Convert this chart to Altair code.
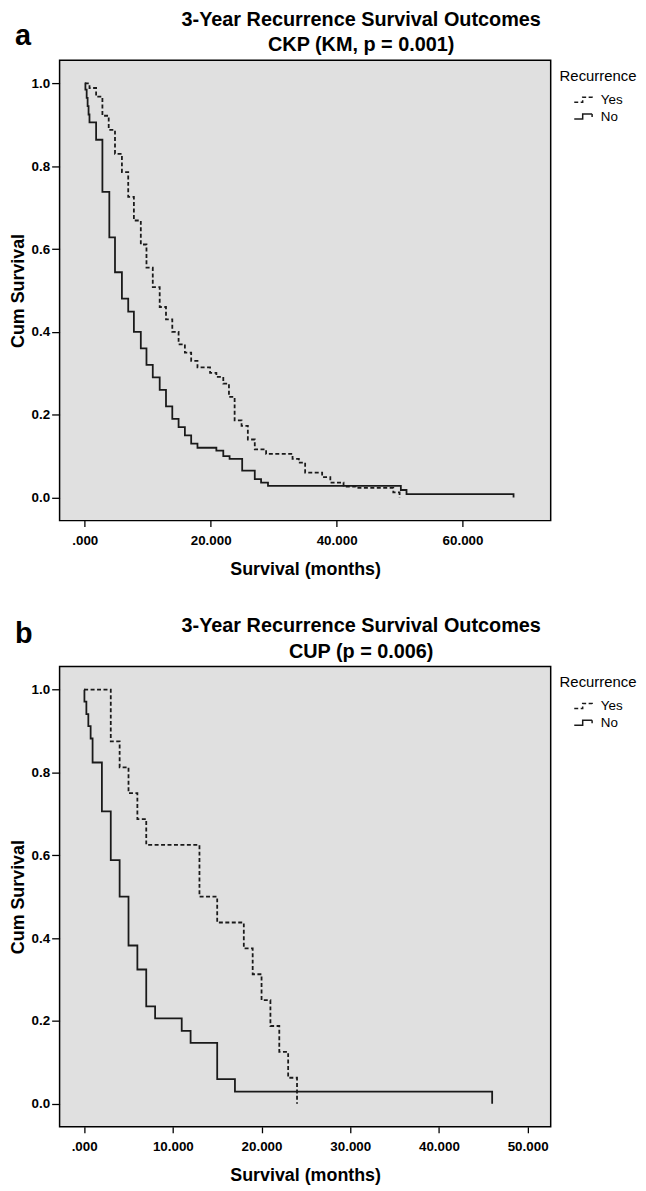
import altair as alt
import pandas as pd

# ---------------- data ----------------
# Panel a: CKP, Kaplan-Meier steps (time in months, cumulative survival)
ckp_yes_t = [0, 0.75, 1.8, 2.8, 3.8, 4.8, 5.9, 6.9, 7.8, 8.9, 9.8, 10.8, 11.9, 12.9,
             13.9, 14.9, 15.9, 16.9, 17.9, 19.9, 20.9, 22.0, 22.9, 23.8, 24.9, 25.9,
             27.0, 28.8, 33.0, 34.0, 35.0, 37.7, 39.0, 41.1, 43.0, 49.0, 50.0]
ckp_yes_s = [1.0, 0.989, 0.968, 0.922, 0.888, 0.830, 0.786, 0.726, 0.669, 0.611, 0.555,
             0.508, 0.460, 0.43, 0.40, 0.37, 0.35, 0.33, 0.314, 0.301, 0.291, 0.275,
             0.243, 0.186, 0.173, 0.140, 0.116, 0.105, 0.093, 0.084, 0.060, 0.049,
             0.036, 0.026, 0.023, 0.012, 0.0]
ckp_no_t = [0, 0.1, 0.3, 0.45, 0.6, 0.75, 1.8, 2.8, 3.9, 4.8, 5.9, 6.9, 7.8, 8.9, 9.8,
            10.8, 11.9, 12.9, 13.9, 14.9, 15.9, 16.9, 17.9, 20.9, 22.0, 23.0, 25.0,
            27.0, 28.0, 29.1, 50.2, 51.1, 68.1]
ckp_no_s = [1.0, 0.985, 0.965, 0.945, 0.925, 0.906, 0.864, 0.738, 0.628, 0.544, 0.480,
            0.449, 0.40, 0.36, 0.32, 0.29, 0.26, 0.22, 0.19, 0.17, 0.15, 0.13, 0.12,
            0.113, 0.100, 0.093, 0.065, 0.044, 0.036, 0.028, 0.018, 0.008, 0.0]

# Panel b: CUP
cup_yes_t = [0, 3, 4, 5, 6, 7, 13, 15, 18, 19, 20, 21, 22, 23, 24]
cup_yes_s = [1.0, 0.875, 0.8125, 0.75, 0.6875, 0.625, 0.5, 0.4375, 0.375, 0.3125,
             0.25, 0.1875, 0.125, 0.0625, 0.0]
cup_no_t = [0, 0.03, 0.25, 0.47, 0.73, 0.95, 2, 3, 4, 5, 6, 7, 8, 11, 12, 15, 17, 46]
cup_no_s = [1.0, 0.971, 0.941, 0.912, 0.882, 0.824, 0.706, 0.588, 0.5, 0.382, 0.324,
            0.235, 0.206, 0.176, 0.147, 0.059, 0.029, 0.0]

groups = ["Yes", "No"]
y_ticks = [0.0, 0.2, 0.4, 0.6, 0.8, 1.0]
x_ticks_a = [0, 20, 40, 60]
x_ticks_b = [0, 10, 20, 30, 40, 50]
title_a = ["3-Year Recurrence Survival Outcomes", "CKP (KM, p = 0.001)"]
title_b = ["3-Year Recurrence Survival Outcomes", "CUP (p = 0.006)"]

FONT = "Liberation Sans"
INK = "#1a1a1a"
# step-shaped legend glyph
STEP_PATH = "M-2,0.5H-0.3V-0.5H1.6V0.1"


def table(ty, sy, tn, sn):
    rows = [{"t": t, "s": s, "Recurrence": "Yes"} for t, s in zip(ty, sy)]
    rows += [{"t": t, "s": s, "Recurrence": "No"} for t, s in zip(tn, sn)]
    return pd.DataFrame(rows)


def text_layer(txt, x, y, size, align):
    return alt.Chart(pd.DataFrame({"lbl": [txt]})).mark_text(
        align=align, baseline="alphabetic", font=FONT, fontSize=size,
        fontWeight="bold", color="black"
    ).encode(text="lbl:N", x=alt.value(x), y=alt.value(y))


def panel(df, xdomain, xticks, title, letter, letter_dy):
    lines = alt.Chart(df).mark_line(
        interpolate="step-after", strokeWidth=1.8, color=INK
    ).encode(
        x=alt.X("t:Q",
                scale=alt.Scale(domain=xdomain, nice=False, zero=False),
                axis=alt.Axis(values=xticks, title="Survival (months)",
                              labelExpr="datum.value == 0 ? '.000' : format(datum.value, '.3f')",
                              tickSize=6, labelPadding=7, titlePadding=14)),
        y=alt.Y("s:Q",
                scale=alt.Scale(domain=[-0.056, 1.056], nice=False, zero=False),
                axis=alt.Axis(values=y_ticks, format=".1f", title="Cum Survival",
                              tickSize=8, labelPadding=2, titlePadding=4)),
        strokeDash=alt.StrokeDash(
            "Recurrence:N",
            scale=alt.Scale(domain=groups, range=[[4, 2.5], [1, 0]]),
            legend=alt.Legend(
                title="Recurrence", orient="none", legendX=504, legendY=9,
                symbolType=STEP_PATH, symbolSize=100, symbolStrokeWidth=1.5,
                symbolStrokeColor=INK, symbolFillColor="transparent",
                symbolOffset=18, padding=0, titlePadding=9, rowPadding=2,
                labelOffset=10,
                titleFont=FONT, titleFontSize=15, titleFontWeight="normal",
                titleColor="black", labelFont=FONT, labelFontSize=13.5,
                labelColor="black")),
        order=alt.Order("t:Q"),
    )
    layers = [
        lines,
        text_layer(title[0], 304, -35, 20, "center"),
        text_layer(title[1], 304, -9, 20, "center"),
        text_layer(letter, -45, letter_dy, 29, "left"),
    ]
    return alt.layer(*layers).properties(width=495, height=464)


pa = panel(table(ckp_yes_t, ckp_yes_s, ckp_no_t, ckp_no_s), [-4, 74], x_ticks_a,
           title_a, "a", -15)
pb = panel(table(cup_yes_t, cup_yes_s, cup_no_t, cup_no_s), [-2.77, 52.6], x_ticks_b,
           title_b, "b", -24)

chart = alt.vconcat(pa, pb, spacing=35).resolve_scale(
    x="independent", y="independent", strokeDash="independent"
).resolve_legend(strokeDash="independent").properties(
    padding={"left": 0, "top": -4, "right": 0, "bottom": 0}
).configure_view(
    fill="#e0e0e0", stroke="black", strokeWidth=1.5
).configure_axis(
    domain=False, grid=False, tickColor="black", tickWidth=1.3,
    labelFont=FONT, labelFontSize=13.5, labelFontWeight="bold", labelColor="black",
    titleFont=FONT, titleFontSize=18, titleFontWeight="bold", titleColor="black",
)

chart.save("out.html", embed_options={"renderer": "svg", "actions": False})
